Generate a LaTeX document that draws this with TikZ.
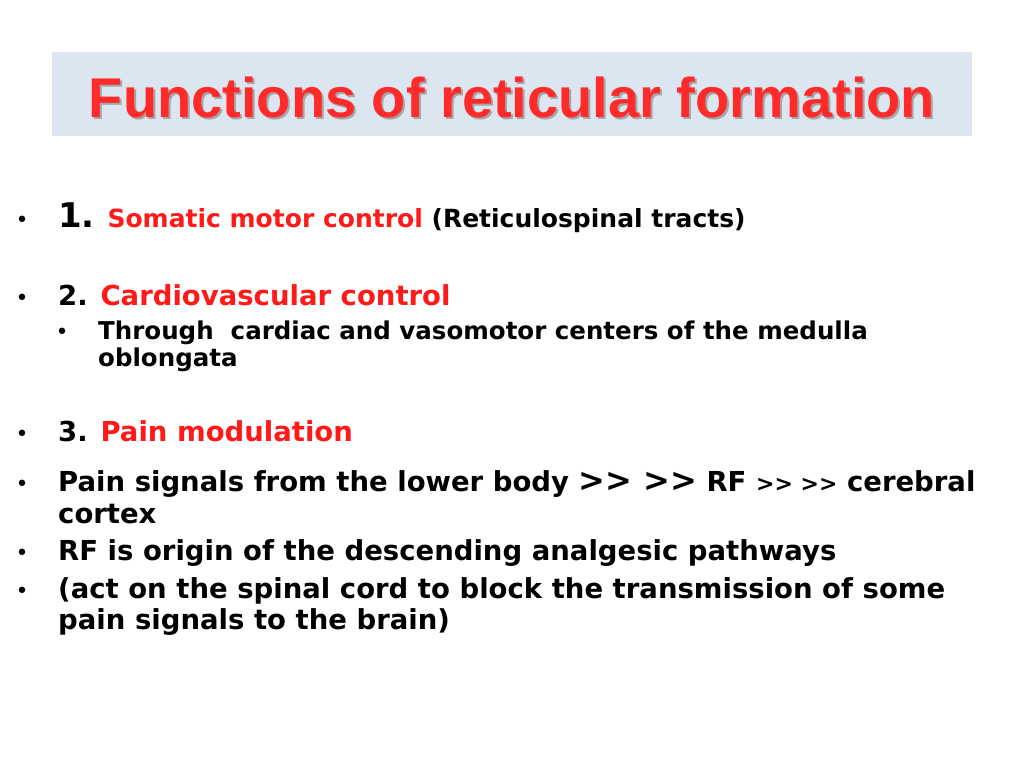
\documentclass[tikz,border=0pt]{standalone}
\usepackage{fontspec}
\setmainfont{DejaVu Sans}
\newfontfamily\titlefont{Liberation Sans}
\definecolor{tbg}{HTML}{DCE6F1}
\definecolor{tred}{HTML}{FF2A2A}
\definecolor{bred}{HTML}{FF1A1A}
\newcommand{\myarr}{{>}{>}}
\begin{document}
\begin{tikzpicture}[x=1pt,y=-1pt,
  body/.style={anchor=base west,inner sep=0pt,font=\fontsize{27.5}{30}\selectfont\bfseries},
  small/.style={anchor=base west,inner sep=0pt,font=\fontsize{24.5}{27}\selectfont\bfseries},
  bul/.style={anchor=base,inner sep=0pt,font=\fontsize{22}{26}\selectfont}]
\useasboundingbox[fill=white] (0,0) rectangle (1024,768);
\fill[tbg] (52,52) rectangle (972,136);
\node[text=black!35,font=\titlefont\fontsize{56}{60}\selectfont\bfseries] (tsh) at (514,99) {Functions of reticular formation};
\node[text=tred,font=\titlefont\fontsize{56}{60}\selectfont\bfseries] (title) at (512,97) {Functions of reticular formation};
\node[bul] (b1) at (22,227) {•};
\node[body] (l1) at (58,227) {{\fontsize{34}{36}\selectfont 1.} {\fontsize{25}{28}\selectfont\textcolor{bred}{Somatic motor control} (Reticulospinal tracts)}};
\node[bul] (b2) at (22,305) {•};
\node[body] (l2) at (58,305) {2. \textcolor{bred}{Cardiovascular control}};
\node[bul] (b3) at (62,339) {•};
\node[small] (l3) at (98,339) {Through\ \ cardiac and vasomotor centers of the medulla};
\node[small] (l3b) at (98,366) {oblongata};
\node[bul] (b4) at (22,441) {•};
\node[body] (l4) at (58,441) {3. \textcolor{bred}{Pain modulation}};
\node[bul] (b5) at (22,491) {•};
\node[body] (l5) at (58,491) {Pain signals from the lower body {\fontsize{32}{34}\selectfont \myarr\ \myarr} RF {\fontsize{22}{24}\selectfont\myarr\ \myarr} cerebral};
\node[body] (l5b) at (58,523) {cortex};
\node[bul] (b6) at (22,560) {•};
\node[body] (l6) at (58,560) {RF is origin of the descending analgesic pathways};
\node[bul] (b7) at (22,598) {•};
\node[body] (l7) at (58,598) {(act on the spinal cord to block the transmission of some};
\node[body] (l7b) at (58,629) {pain signals to the brain)};
\end{tikzpicture}
\end{document}
